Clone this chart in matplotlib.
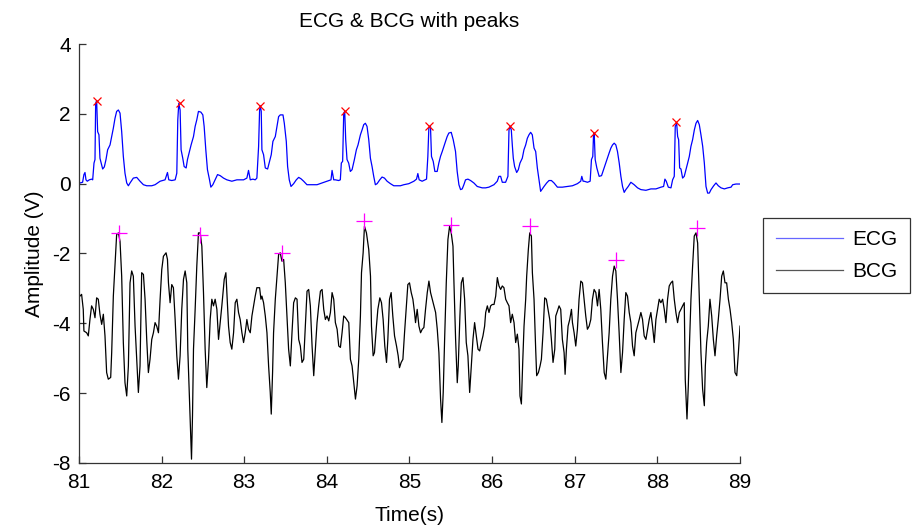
import matplotlib
matplotlib.use("Agg")
import matplotlib.pyplot as plt

plt.rcParams["font.family"] = ["Liberation Sans", "DejaVu Sans"]
plt.rcParams["axes.unicode_minus"] = False

# ECG trace (time in s, amplitude in V)
ecg_t = [81.012, 81.044, 81.060, 81.073, 81.085, 81.101, 81.125, 81.153, 81.166, 81.182, 81.194, 81.202, 81.214,
         81.226, 81.242, 81.254, 81.275, 81.287, 81.307, 81.327, 81.347, 81.376, 81.396, 81.416, 81.436, 81.456,
         81.477, 81.497, 81.517, 81.537, 81.557, 81.578, 81.598, 81.618, 81.658, 81.699, 81.739, 81.780, 81.820,
         81.881, 81.921, 81.982, 82.042, 82.071, 82.087, 82.123, 82.164, 82.184, 82.196, 82.208, 82.224, 82.236,
         82.256, 82.273, 82.297, 82.313, 82.333, 82.357, 82.386, 82.406, 82.426, 82.446, 82.475, 82.499, 82.515,
         82.535, 82.555, 82.580, 82.596, 82.620, 82.648, 82.677, 82.709, 82.749, 82.790, 82.850, 82.911, 82.992,
         83.032, 83.052, 83.073, 83.105, 83.133, 83.153, 83.174, 83.186, 83.194, 83.206, 83.214, 83.234, 83.255,
         83.283, 83.307, 83.327, 83.347, 83.376, 83.396, 83.416, 83.436, 83.469, 83.485, 83.509, 83.525, 83.545,
         83.566, 83.598, 83.630, 83.659, 83.687, 83.719, 83.759, 83.820, 83.881, 83.941, 84.002, 84.050, 84.063,
         84.083, 84.103, 84.143, 84.163, 84.175, 84.191, 84.204, 84.216, 84.228, 84.244, 84.264, 84.284, 84.305,
         84.333, 84.357, 84.377, 84.406, 84.426, 84.446, 84.466, 84.486, 84.507, 84.527, 84.547, 84.567, 84.587,
         84.608, 84.640, 84.668, 84.697, 84.729, 84.769, 84.810, 84.890, 84.931, 84.992, 85.053, 85.085, 85.101,
         85.117, 85.153, 85.206, 85.222, 85.234, 85.254, 85.266, 85.287, 85.307, 85.335, 85.355, 85.375, 85.396,
         85.416, 85.436, 85.456, 85.476, 85.505, 85.529, 85.557, 85.577, 85.598, 85.618, 85.638, 85.658, 85.678,
         85.707, 85.739, 85.779, 85.820, 85.880, 85.921, 85.961, 86.022, 86.062, 86.082, 86.103, 86.123, 86.163,
         86.191, 86.204, 86.216, 86.232, 86.244, 86.256, 86.272, 86.297, 86.317, 86.337, 86.365, 86.385, 86.406,
         86.426, 86.446, 86.466, 86.486, 86.507, 86.527, 86.547, 86.567, 86.587, 86.628, 86.660, 86.688, 86.717,
         86.749, 86.790, 86.850, 86.911, 86.972, 87.032, 87.072, 87.085, 87.101, 87.113, 87.154, 87.186, 87.202,
         87.218, 87.227, 87.235, 87.247, 87.267, 87.295, 87.324, 87.348, 87.376, 87.396, 87.416, 87.437, 87.457,
         87.477, 87.497, 87.517, 87.538, 87.558, 87.578, 87.598, 87.618, 87.647, 87.679, 87.719, 87.760, 87.800,
         87.861, 87.921, 87.982, 88.043, 88.075, 88.091, 88.107, 88.132, 88.164, 88.184, 88.204, 88.216, 88.233,
         88.245, 88.257, 88.269, 88.285, 88.305, 88.325, 88.346, 88.366, 88.386, 88.406, 88.426, 88.447, 88.467,
         88.487, 88.507, 88.527, 88.548, 88.568, 88.588, 88.608, 88.628, 88.649, 88.681, 88.709, 88.737, 88.770,
         88.810, 88.851, 88.891, 88.911, 88.951, 89.000]
ecg_v = [0.02, 0.04, 0.26, 0.32, 0.11, 0.07, 0.11, 0.13, 0.11, 0.59, 0.69, 2.30, 2.38,
         1.49, 1.40, 0.73, 0.54, 0.42, 0.48, 0.69, 0.97, 1.11, 1.35, 1.59, 1.87, 2.07,
         2.11, 2.02, 1.49, 0.78, 0.30, 0.02, -0.06, 0.02, 0.16, 0.18, 0.07, -0.03, -0.06,
         -0.06, -0.03, 0.07, 0.11, 0.32, 0.11, 0.09, 0.11, 0.30, 1.83, 2.30, 2.11, 0.97,
         0.73, 0.49, 0.45, 0.69, 0.88, 1.11, 1.35, 1.64, 1.83, 2.07, 2.05, 1.97, 1.64,
         0.97, 0.40, 0.11, -0.10, -0.03, 0.11, 0.26, 0.23, 0.16, 0.11, 0.07, 0.11, 0.11,
         0.16, 0.38, 0.11, 0.13, 0.11, 0.16, 1.07, 2.11, 2.23, 2.07, 0.97, 0.83, 0.45,
         0.42, 0.64, 0.83, 1.21, 1.35, 1.64, 1.92, 1.97, 1.97, 1.73, 1.21, 0.49, 0.11,
         -0.08, 0.00, 0.11, 0.18, 0.14, 0.07, -0.03, -0.03, -0.03, 0.02, 0.07, 0.11, 0.38,
         0.11, 0.11, 0.09, 0.11, 0.59, 0.64, 2.02, 2.07, 1.26, 0.69, 0.59, 0.35, 0.40,
         0.69, 0.97, 1.11, 1.40, 1.54, 1.69, 1.73, 1.64, 1.26, 0.73, 0.49, 0.21, -0.03,
         0.00, 0.11, 0.19, 0.16, 0.07, 0.00, -0.06, -0.06, -0.03, 0.00, 0.07, 0.13, 0.29,
         0.11, 0.07, 0.13, 0.78, 1.59, 1.64, 0.78, 0.64, 0.35, 0.35, 0.59, 0.78, 0.92,
         1.07, 1.21, 1.35, 1.45, 1.47, 1.26, 0.92, 0.35, -0.03, -0.17, -0.15, -0.03, 0.11,
         0.13, 0.09, 0.02, -0.08, -0.12, -0.12, -0.10, -0.03, 0.07, 0.21, 0.21, 0.04, 0.04,
         0.21, 1.54, 1.64, 1.54, 1.11, 0.73, 0.49, 0.32, 0.40, 0.59, 0.73, 0.97, 1.11,
         1.30, 1.40, 1.47, 1.40, 1.02, 0.92, 0.45, 0.11, -0.22, -0.08, 0.02, 0.09, 0.09,
         0.02, -0.10, -0.10, -0.08, -0.06, 0.00, 0.07, 0.21, 0.07, 0.07, 0.04, 0.07, 0.69,
         0.78, 1.40, 1.45, 0.69, 0.45, 0.21, 0.23, 0.40, 0.59, 0.73, 0.88, 1.02, 1.11,
         1.16, 1.11, 0.92, 0.59, 0.21, -0.08, -0.25, -0.17, -0.08, 0.04, -0.03, -0.12, -0.17,
         -0.19, -0.15, -0.15, -0.10, -0.08, 0.13, 0.07, -0.10, -0.12, 0.11, 0.21, 1.64, 1.73,
         1.35, 1.26, 0.45, 0.42, 0.16, 0.21, 0.40, 0.59, 0.78, 1.07, 1.26, 1.54, 1.73,
         1.81, 1.69, 1.40, 1.07, 0.59, -0.08, -0.27, -0.27, -0.17, -0.06, 0.02, -0.06, -0.12,
         -0.15, -0.12, -0.10, -0.03, -0.01, -0.01]

# BCG trace (time in s, amplitude in V)
bcg_t = [81.012, 81.032, 81.052, 81.060, 81.093, 81.113, 81.133, 81.153, 81.174, 81.194, 81.214, 81.234, 81.254,
         81.275, 81.295, 81.315, 81.335, 81.355, 81.384, 81.396, 81.416, 81.436, 81.456, 81.477, 81.497, 81.517,
         81.537, 81.557, 81.578, 81.598, 81.618, 81.638, 81.658, 81.679, 81.699, 81.719, 81.739, 81.759, 81.780,
         81.800, 81.820, 81.840, 81.860, 81.881, 81.901, 81.921, 81.941, 81.962, 81.982, 82.002, 82.022, 82.054,
         82.071, 82.083, 82.103, 82.123, 82.143, 82.164, 82.184, 82.204, 82.224, 82.244, 82.265, 82.285, 82.305,
         82.317, 82.337, 82.353, 82.362, 82.374, 82.386, 82.406, 82.426, 82.446, 82.467, 82.487, 82.507, 82.527,
         82.547, 82.568, 82.588, 82.608, 82.628, 82.648, 82.669, 82.689, 82.729, 82.758, 82.778, 82.790, 82.810,
         82.830, 82.850, 82.871, 82.891, 82.911, 82.931, 82.951, 82.972, 82.992, 83.012, 83.032, 83.052, 83.073,
         83.093, 83.113, 83.133, 83.153, 83.186, 83.202, 83.214, 83.234, 83.255, 83.275, 83.295, 83.315, 83.327,
         83.343, 83.355, 83.376, 83.396, 83.416, 83.436, 83.456, 83.477, 83.497, 83.517, 83.537, 83.558, 83.578,
         83.598, 83.619, 83.639, 83.659, 83.679, 83.699, 83.720, 83.740, 83.760, 83.780, 83.800, 83.821, 83.841,
         83.861, 83.881, 83.901, 83.922, 83.942, 83.962, 83.982, 84.002, 84.023, 84.043, 84.063, 84.083, 84.103,
         84.124, 84.144, 84.164, 84.184, 84.204, 84.225, 84.265, 84.285, 84.305, 84.326, 84.346, 84.366, 84.386,
         84.406, 84.419, 84.439, 84.455, 84.479, 84.507, 84.528, 84.540, 84.560, 84.576, 84.600, 84.617, 84.641,
         84.661, 84.681, 84.701, 84.722, 84.738, 84.758, 84.778, 84.798, 84.819, 84.843, 84.863, 84.879, 84.899,
         84.920, 84.940, 84.960, 84.980, 85.000, 85.021, 85.041, 85.061, 85.073, 85.093, 85.114, 85.134, 85.154,
         85.174, 85.194, 85.215, 85.235, 85.255, 85.275, 85.295, 85.316, 85.336, 85.356, 85.376, 85.392, 85.408,
         85.425, 85.445, 85.465, 85.485, 85.505, 85.526, 85.538, 85.558, 85.578, 85.590, 85.610, 85.627, 85.647,
         85.667, 85.687, 85.707, 85.728, 85.748, 85.768, 85.788, 85.808, 85.829, 85.849, 85.869, 85.889, 85.909,
         85.922, 85.942, 85.962, 85.982, 86.002, 86.023, 86.043, 86.063, 86.083, 86.103, 86.123, 86.143, 86.164,
         86.184, 86.204, 86.224, 86.244, 86.265, 86.285, 86.305, 86.325, 86.337, 86.354, 86.370, 86.386, 86.406,
         86.418, 86.438, 86.455, 86.475, 86.487, 86.507, 86.527, 86.539, 86.560, 86.580, 86.596, 86.616, 86.636,
         86.656, 86.677, 86.697, 86.717, 86.737, 86.758, 86.770, 86.790, 86.810, 86.830, 86.850, 86.871, 86.883,
         86.899, 86.919, 86.939, 86.960, 86.972, 86.992, 87.012, 87.032, 87.052, 87.073, 87.093, 87.113, 87.133,
         87.153, 87.174, 87.194, 87.214, 87.234, 87.255, 87.275, 87.295, 87.315, 87.335, 87.356, 87.376, 87.396,
         87.416, 87.436, 87.457, 87.477, 87.497, 87.517, 87.537, 87.558, 87.578, 87.598, 87.618, 87.638, 87.659,
         87.679, 87.699, 87.719, 87.739, 87.760, 87.780, 87.800, 87.820, 87.840, 87.861, 87.881, 87.901, 87.921,
         87.941, 87.962, 87.982, 88.002, 88.022, 88.042, 88.063, 88.083, 88.103, 88.123, 88.143, 88.164, 88.184,
         88.204, 88.224, 88.244, 88.265, 88.285, 88.305, 88.325, 88.337, 88.358, 88.374, 88.390, 88.406, 88.426,
         88.446, 88.467, 88.487, 88.507, 88.527, 88.547, 88.568, 88.580, 88.596, 88.616, 88.636, 88.657, 88.677,
         88.697, 88.717, 88.737, 88.758, 88.778, 88.798, 88.818, 88.838, 88.859, 88.879, 88.899, 88.919, 88.939,
         88.960, 88.980, 89.000]
bcg_v = [-3.22, -3.17, -3.60, -4.22, -4.27, -4.36, -3.89, -3.50, -3.60, -3.84, -3.27, -3.31, -3.74,
         -4.03, -3.74, -4.36, -5.41, -5.60, -5.55, -4.84, -3.22, -2.36, -1.46, -1.41, -1.65, -2.65,
         -4.55, -5.70, -6.08, -5.22, -2.84, -2.50, -2.65, -4.08, -5.03, -5.98, -5.22, -2.55, -2.60,
         -3.31, -4.46, -5.41, -5.03, -4.46, -4.27, -3.98, -4.08, -4.27, -3.31, -2.46, -2.08, -1.98,
         -2.17, -2.84, -3.41, -2.89, -2.98, -3.89, -4.93, -5.60, -4.93, -3.60, -2.74, -2.50, -2.84,
         -4.74, -6.17, -7.31, -7.89, -6.65, -4.74, -3.60, -2.36, -1.41, -1.41, -1.79, -3.12, -4.74,
         -5.84, -5.03, -3.89, -3.31, -3.50, -3.31, -3.60, -4.46, -3.50, -2.74, -2.55, -3.12, -4.08,
         -4.55, -4.74, -4.27, -3.41, -3.31, -3.69, -3.89, -4.27, -4.55, -4.27, -3.89, -4.17, -4.27,
         -3.79, -3.50, -3.22, -2.98, -2.98, -3.31, -3.22, -3.41, -3.79, -4.27, -5.22, -5.98, -6.60,
         -5.41, -4.27, -3.31, -2.65, -2.03, -1.98, -2.22, -2.17, -2.84, -3.79, -4.74, -5.22, -4.27,
         -3.41, -3.27, -3.31, -4.46, -4.65, -5.12, -5.03, -4.08, -3.08, -3.03, -3.50, -4.65, -5.50,
         -4.74, -3.98, -3.50, -3.08, -3.03, -3.60, -3.89, -3.79, -3.93, -3.69, -3.12, -3.31, -3.98,
         -4.17, -4.65, -4.69, -4.27, -3.79, -3.84, -3.98, -5.03, -5.22, -5.70, -6.17, -5.79, -5.03,
         -3.79, -2.55, -1.98, -1.22, -1.41, -1.89, -2.65, -4.08, -4.93, -4.84, -4.08, -3.60, -3.27,
         -3.41, -3.89, -4.65, -5.12, -4.46, -3.31, -3.12, -3.79, -4.36, -4.65, -4.93, -5.27, -5.12,
         -5.03, -4.27, -3.60, -2.89, -2.84, -3.12, -3.31, -3.69, -3.98, -3.60, -4.08, -4.27, -4.17,
         -4.12, -3.60, -3.12, -2.79, -3.12, -3.31, -3.50, -3.69, -4.17, -4.84, -6.17, -6.84, -5.98,
         -4.46, -2.84, -1.60, -1.22, -1.41, -1.79, -2.84, -4.46, -5.70, -5.22, -3.79, -2.84, -2.69,
         -3.31, -4.55, -4.93, -5.98, -5.22, -4.46, -3.98, -4.36, -4.74, -4.79, -4.55, -4.36, -4.08,
         -3.69, -3.50, -3.69, -3.50, -3.46, -3.46, -3.22, -2.69, -2.93, -3.03, -2.93, -2.98, -3.31,
         -3.41, -3.50, -3.98, -3.74, -3.98, -4.55, -4.31, -4.74, -6.08, -6.31, -5.12, -4.08, -3.31,
         -2.65, -1.89, -1.41, -1.50, -2.55, -3.31, -4.74, -5.50, -5.41, -5.22, -5.03, -4.27, -3.27,
         -3.31, -3.60, -3.89, -4.46, -5.12, -4.74, -3.79, -3.65, -3.50, -3.60, -4.46, -4.84, -5.46,
         -4.74, -4.08, -3.89, -3.60, -3.98, -4.27, -4.65, -4.17, -3.31, -2.79, -2.84, -3.31, -3.79,
         -4.17, -4.08, -3.89, -3.31, -3.03, -3.12, -3.50, -3.03, -3.60, -4.55, -5.41, -5.60, -4.93,
         -4.27, -3.31, -2.65, -2.36, -2.50, -3.31, -4.27, -5.41, -4.84, -3.89, -3.12, -3.22, -3.69,
         -3.98, -4.65, -4.93, -4.27, -4.08, -3.89, -3.69, -3.89, -4.36, -4.46, -4.17, -3.89, -3.69,
         -4.08, -4.55, -3.89, -3.60, -3.31, -3.41, -3.31, -3.60, -3.98, -3.31, -2.93, -2.84, -2.79,
         -3.31, -3.69, -3.98, -3.69, -3.60, -3.50, -3.41, -5.60, -6.74, -5.79, -4.46, -3.31, -2.36,
         -1.50, -1.41, -1.70, -3.31, -4.84, -5.88, -6.36, -5.22, -4.55, -4.08, -3.31, -3.79, -4.46,
         -4.93, -4.36, -3.89, -3.31, -2.65, -2.50, -2.84, -2.84, -3.31, -3.60, -3.98, -4.46, -5.41,
         -5.50, -4.84, -4.08]

# detected peaks
ecg_peak_t = [81.22, 82.22, 83.19, 84.22, 85.24, 86.22, 87.23, 88.23]
ecg_peak_v = [2.38, 2.32, 2.23, 2.07, 1.64, 1.64, 1.45, 1.78]
bcg_peak_t = [81.48, 82.47, 83.46, 84.45, 85.50, 86.46, 87.50, 88.48]
bcg_peak_v = [-1.41, -1.46, -1.98, -1.08, -1.17, -1.22, -2.20, -1.27]

fig = plt.figure(figsize=(9.16, 5.29), dpi=100)
ax = fig.add_axes([0.0862, 0.1248, 0.7217, 0.792])

ecg_line, = ax.plot(ecg_t, ecg_v, color="#0000ff", lw=0.9, label="ECG")
bcg_line, = ax.plot(bcg_t, bcg_v, color="black", lw=0.9, label="BCG")
ax.plot(ecg_peak_t, ecg_peak_v, "x", color="red", ms=6, mew=0.9)
ax.plot(bcg_peak_t, bcg_peak_v, "+", color="magenta", ms=11, mew=0.9)

ax.set_xlim(81, 89)
ax.set_ylim(-8, 4)
ax.set_xticks(range(81, 90))
ax.set_yticks([-8, -6, -4, -2, 0, 2, 4])
ax.spines["top"].set_visible(False)
ax.spines["right"].set_visible(False)
for side in ["left", "bottom"]:
    ax.spines[side].set_color("#333333")
    ax.spines[side].set_linewidth(0.9)
ax.tick_params(direction="in", length=5, width=0.9, labelsize=15, colors="#333333",
               labelcolor="black")
ax.tick_params(axis="x", pad=7.5)
ax.tick_params(axis="y", pad=6)

ax.set_title("ECG & BCG with peaks", fontsize=15, pad=12)
ax.set_xlabel("Time(s)", fontsize=15, labelpad=10)
ax.set_ylabel("Amplitude (V)", fontsize=15, labelpad=6)

leg = fig.legend(handles=[ecg_line, bcg_line], loc="upper left",
                 bbox_to_anchor=(763 / 916, 1 - 218 / 529), fontsize=15,
                 frameon=True, fancybox=False, edgecolor="black",
                 handlelength=3.25, handletextpad=0.45, labelspacing=0.6,
                 borderpad=0.6, borderaxespad=0)
leg.get_frame().set_linewidth(0.9)
leg.legend_handles[0].set_color("#6666ff")
leg.legend_handles[1].set_color("#555555")

fig.savefig("out.png", dpi=100)
